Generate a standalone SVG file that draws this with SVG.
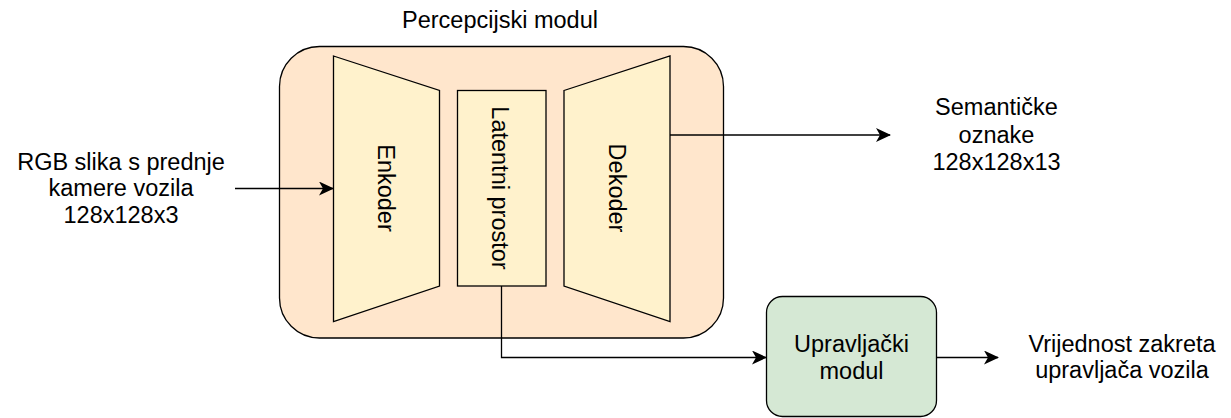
<svg xmlns="http://www.w3.org/2000/svg" width="1231" height="418" viewBox="0 0 1231 418">
<defs>
<marker id="arr" markerWidth="15" markerHeight="14" refX="14" refY="7" orient="auto" markerUnits="userSpaceOnUse">
<path d="M0,0 L15,7 L0,14 L4,7 Z" fill="#000"/>
</marker>
</defs>
<style>
.t{font-family:"Liberation Sans",Arial,sans-serif;font-size:23.5px;fill:#000;text-anchor:middle}
.s{stroke:#000;stroke-width:1.3}
.c{fill:none;stroke:#000;stroke-width:1.3}
</style>
<rect width="1231" height="418" fill="#fff"/>
<g id="perception">
<rect class="s" x="279.5" y="46.5" width="444" height="291.5" rx="40" ry="40" fill="#FFE6CC"/>
<text class="t" x="500" y="28">Percepcijski modul</text>
</g>
<g id="encoder">
<polygon class="s" points="333.5,56 439.5,90.5 439.5,286 333.5,321.5" fill="#FFF2CC"/>
<text class="t" transform="translate(377.5,188) rotate(90)">Enkoder</text>
</g>
<g id="latent">
<rect class="s" x="457.5" y="90.5" width="88.5" height="195.5" fill="#FFF2CC"/>
<text class="t" transform="translate(491.5,188) rotate(90)">Latentni prostor</text>
</g>
<g id="decoder">
<polygon class="s" points="564,90.5 670,56 670,321.5 564,286" fill="#FFF2CC"/>
<text class="t" transform="translate(608.5,188) rotate(90)">Dekoder</text>
</g>
<g id="control">
<rect class="s" x="766.5" y="296.5" width="170" height="120" rx="16" ry="16" fill="#D5E8D4"/>
<text class="t" x="851.5" y="351.5">Upravljački</text>
<text class="t" x="851.5" y="379">modul</text>
</g>
<g id="input-label">
<text class="t" x="121" y="169.5">RGB slika s prednje</text>
<text class="t" x="121" y="196">kamere vozila</text>
<text class="t" x="121" y="222.5">128x128x3</text>
</g>
<g id="semantic-label">
<text class="t" x="996.5" y="115">Semantičke</text>
<text class="t" x="996.5" y="142.5">oznake</text>
<text class="t" x="996.5" y="170">128x128x13</text>
</g>
<g id="output-label">
<text class="t" x="1122" y="351.5">Vrijednost zakreta</text>
<text class="t" x="1122" y="378">upravljača vozila</text>
</g>
<g id="connectors">
<path class="c" d="M235,188.5 L333,188.5" marker-end="url(#arr)"/>
<path class="c" d="M670,135 L890,135" marker-end="url(#arr)"/>
<path class="c" d="M501.5,286 L501.5,357.5 L766,357.5" marker-end="url(#arr)"/>
<path class="c" d="M936.5,357.5 L998,357.5" marker-end="url(#arr)"/>
</g>
</svg>
